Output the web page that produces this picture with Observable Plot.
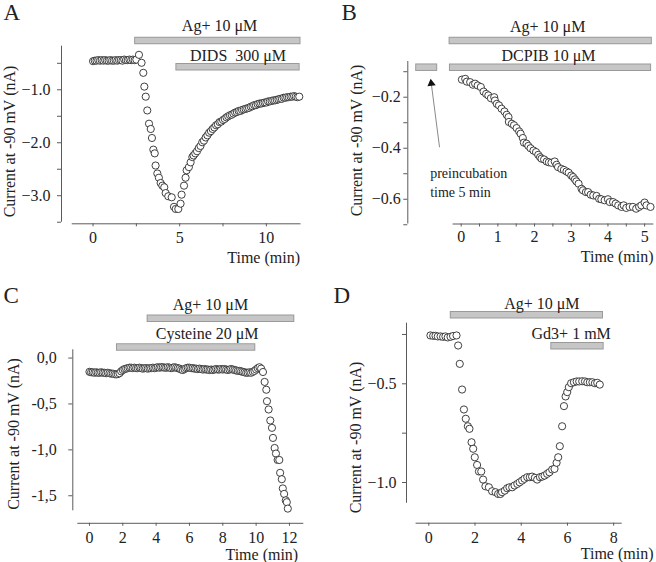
<!DOCTYPE html>
<html><head><meta charset="utf-8">
<script src="https://cdn.jsdelivr.net/npm/d3@7"></script>
<script src="https://cdn.jsdelivr.net/npm/@observablehq/plot@0.6"></script>
<style>
html,body{margin:0;padding:0;background:#fff;}
#fig{position:relative;width:656px;height:562px;overflow:hidden;background:#fff;}
#fig > svg{position:absolute;overflow:visible;}
</style></head><body><div id="fig"></div>
<script>
// ---------- Panel A: Ag+ then DIDS ----------
const aTime = [0,0.1,0.2,0.3,0.4,0.5,0.6,0.7,0.8,0.9,1,1.1,1.2,1.3,1.4,1.5,1.6,1.7,1.8,1.9,2,2.1,2.2,2.3,2.4,2.5,
  2.65,2.8,2.9,2.96,3.04,3.13,3.23,3.33,3.4,3.48,3.56,3.61,3.71,3.8,3.9,4,4.11,4.19,4.34,4.54,4.67,4.77,4.92,5.05,5.11,5.25,5.34,5.4,5.53,5.63,5.73,
  5.8,5.9,6,6.1,6.2,6.3,6.4,6.5,6.6,6.7,6.8,6.9,7,7.1,7.2,7.3,7.4,7.5,7.6,7.7,7.8,7.9,8,8.1,8.2,8.3,8.4,8.5,8.6,8.7,8.8,8.9,9,9.1,9.2,9.3,9.4,9.5,9.6,9.7,9.8,9.9,10,10.1,10.2,10.3,10.4,10.5,10.6,10.7,10.8,10.9,11,11.1,11.2,11.3,11.4,11.5,11.6,11.7,11.8,11.9];
const aCurrent = [-0.46,-0.45,-0.45,-0.44,-0.45,-0.44,-0.45,-0.44,-0.45,-0.45,-0.44,-0.45,-0.45,-0.44,-0.45,-0.44,-0.44,-0.45,-0.43,-0.44,-0.44,-0.43,-0.44,-0.43,-0.44,-0.43,
  -0.34,-0.49,-0.68,-0.94,-1.13,-1.39,-1.64,-1.74,-1.91,-2.13,-2.2,-2.43,-2.58,-2.66,-2.76,-2.81,-2.84,-2.95,-3.01,-3.03,-3.21,-3.25,-3.25,-3.15,-2.98,-2.81,-2.66,-2.52,-2.46,-2.37,-2.27,
  -2.24,-2.2,-2.16,-2.1,-2.06,-1.99,-1.96,-1.9,-1.86,-1.81,-1.78,-1.74,-1.71,-1.67,-1.65,-1.61,-1.6,-1.57,-1.55,-1.52,-1.5,-1.48,-1.47,-1.45,-1.43,-1.42,-1.4,-1.4,-1.38,-1.37,
  -1.36,-1.35,-1.34,-1.32,-1.31,-1.29,-1.29,-1.27,-1.26,-1.26,-1.25,-1.24,-1.24,-1.22,-1.22,-1.21,-1.2,-1.2,-1.19,-1.18,-1.17,-1.17,-1.15,-1.15,-1.14,-1.14,-1.13,-1.13,-1.12,-1.13,-1.14,-1.13];
const aBars = [{name: "Ag+ 10 μM", start: 2.4, end: 12}, {name: "DIDS\u00a0 300 μM", start: 4.78, end: 11.95}];
const aXTicks = [0, 2.5, 5, 7.5, 10], aXLabeled = [0, 5, 10];
const aYTicks = [-0.5, -1, -1.5, -2, -2.5, -3, -3.5], aYLabeled = [-1, -2, -3];

// ---------- Panel B: DCPIB preincubation ----------
const bTime = [0.02,0.11,0.155,0.245,0.32,0.38,0.45,0.535,0.61,0.68,0.74,0.81,0.9,0.92,0.97,1.03,1.1,1.18,1.24,1.29,
  1.3,1.38,1.44,1.51,1.58,1.62,1.68,1.71,1.78,1.83,1.89,1.97,2.04,2.1,2.15,2.19,2.26,2.33,2.39,2.46,
  2.55,2.6,2.64,2.73,2.8,2.87,2.93,3.0,3.05,3.1,3.14,3.2,3.28,3.32,3.4,3.46,3.53,3.6,3.69,3.76,
  3.82,3.91,4.0,4.05,4.14,4.21,4.28,4.37,4.43,4.5,4.59,4.68,4.77,4.85,4.91,5.0,5.05,5.16];
const bCurrent = [-0.131,-0.128,-0.139,-0.141,-0.151,-0.147,-0.154,-0.16,-0.178,-0.187,-0.193,-0.204,-0.2,-0.213,-0.226,-0.232,-0.245,-0.256,-0.269,-0.278,
  -0.297,-0.304,-0.31,-0.321,-0.334,-0.343,-0.36,-0.378,-0.382,-0.391,-0.4,-0.409,-0.415,-0.426,-0.435,-0.441,-0.444,-0.452,-0.455,-0.457,
  -0.452,-0.465,-0.474,-0.481,-0.485,-0.491,-0.496,-0.507,-0.513,-0.522,-0.53,-0.539,-0.559,-0.565,-0.572,-0.572,-0.582,-0.585,-0.587,-0.598,
  -0.6,-0.604,-0.6,-0.611,-0.611,-0.617,-0.624,-0.63,-0.624,-0.634,-0.63,-0.63,-0.637,-0.63,-0.624,-0.613,-0.624,-0.63];
const bBars = [{name: "Ag+ 10 μM", start: -0.33, end: 5.21}, {name: "DCPIB 10 μM", start: -0.32, end: 5.19}, {name: "", start: -1.24, end: -0.64}];
const bArrow = {fromT: -0.59, fromV: -0.396, toT: -0.815, toV: -0.146};
const bNote = {t: -0.845, lines: ["preincubation", "time 5 min"], v: [-0.50, -0.573]};
const bXTicks = [0,0.5,1,1.5,2,2.5,3,3.5,4,4.5,5], bXLabeled = [0,1,2,3,4,5];
const bYTicks = [-0.1,-0.2,-0.3,-0.4,-0.5,-0.6,-0.7], bYLabeled = [-0.2,-0.4,-0.6];

// ---------- Panel C: Cysteine ----------
const cTime = [0,0.1,0.2,0.3,0.4,0.5,0.6,0.7,0.8,0.9,1,1.1,1.2,1.3,1.4,1.5,1.6,1.7,1.8,1.9,2,2.1,2.2,2.3,2.4,2.5,
  2.6,2.7,2.8,2.9,3,3.1,3.2,3.3,3.4,3.5,3.6,3.7,3.8,3.9,4,4.1,4.2,4.3,4.4,4.5,4.6,4.7,4.8,4.9,5,5.1,5.2,5.3,5.4,5.5,
  5.6,5.7,5.8,5.9,6,6.1,6.2,6.3,6.4,6.5,6.6,6.7,6.8,6.9,7,7.1,7.2,7.3,7.4,7.5,7.6,7.7,7.8,7.9,8,8.1,8.2,8.3,8.4,8.5,
  8.6,8.7,8.8,8.9,9,9.1,9.2,9.3,9.4,9.5,9.6,9.7,9.8,9.9,10,10.1,10.2,10.3,
  10.41,10.51,10.61,10.65,10.75,10.85,10.95,11.01,11.11,11.19,11.29,11.39,11.44,11.54,11.6,11.68,11.78,11.84,11.9];
const cCurrent = [-0.15,-0.155,-0.155,-0.16,-0.155,-0.16,-0.16,-0.155,-0.16,-0.16,-0.165,-0.16,-0.165,-0.17,-0.17,-0.175,
  -0.178,-0.175,-0.165,-0.145,-0.13,-0.12,-0.115,-0.11,-0.105,-0.105,
  -0.11,-0.105,-0.11,-0.11,-0.105,-0.11,-0.115,-0.11,-0.11,-0.115,-0.11,-0.11,-0.105,-0.11,-0.105,
  -0.1,-0.105,-0.1,-0.1,-0.105,-0.105,-0.1,-0.105,-0.11,-0.105,-0.1,-0.105,-0.11,-0.115,-0.125,
  -0.13,-0.12,-0.11,-0.105,-0.105,-0.11,-0.11,-0.115,-0.115,-0.12,-0.115,-0.12,-0.125,-0.12,-0.125,
  -0.125,-0.13,-0.125,-0.13,-0.125,-0.12,-0.125,-0.125,-0.12,-0.125,-0.12,-0.125,-0.13,-0.125,-0.12,
  -0.125,-0.13,-0.135,-0.14,-0.14,-0.145,-0.15,-0.155,-0.16,-0.16,-0.155,-0.16,-0.15,-0.14,-0.125,-0.11,-0.1,-0.115,
  -0.152,-0.26,-0.345,-0.47,-0.56,-0.68,-0.76,-0.87,-0.98,-1.04,-1.11,-1.11,-1.25,-1.32,-1.42,-1.48,-1.55,-1.57,-1.64];
const cBars = [{name: "Ag+ 10 μM", start: 3.46, end: 12.32}, {name: "Cysteine 20 μM", start: 1.62, end: 9.98}];
const cXTicks = [0,2,4,6,8,10,12], cXLabeled = [0,2,4,6,8,10,12];
const cYTicks = [0,-0.5,-1,-1.5], cYLabeled = [0,-0.5,-1,-1.5];

// ---------- Panel D: Gd3+ ----------
const dTime = [0.07,0.19,0.29,0.39,0.51,0.62,0.72,0.82,0.94,1.05,1.2,
  1.27,1.34,1.44,1.52,1.6,1.69,1.76,1.85,1.92,1.99,2.09,2.17,2.27,2.35,2.45,2.6,2.74,2.89,3.0,3.1,
  3.17,3.29,3.39,3.49,3.61,3.71,3.83,3.93,4.04,4.14,4.26,4.37,4.47,4.59,4.69,4.81,4.91,5.01,5.12,5.22,
  5.34,5.44,5.53,5.6,5.67,5.77,5.85,5.92,5.99,6.06,6.16,6.28,6.4,6.51,6.64,6.76,6.86,6.97,7.08,7.19,7.29,7.4];
const dCurrent = [-0.255,-0.257,-0.257,-0.26,-0.26,-0.262,-0.26,-0.265,-0.262,-0.258,-0.255,
  -0.306,-0.399,-0.529,-0.63,-0.677,-0.715,-0.728,-0.796,-0.829,-0.872,-0.911,-0.944,-0.944,-0.985,-1.019,-1.024,-1.044,-1.049,-1.058,-1.058,
  -1.049,-1.041,-1.029,-1.024,-1.024,-1.015,-1.007,-0.999,-0.99,-0.981,-0.973,-0.973,-0.97,-0.976,-0.985,-0.973,-0.97,-0.965,-0.956,-0.948,
  -0.934,-0.931,-0.9,-0.872,-0.816,-0.715,-0.613,-0.564,-0.542,-0.517,-0.497,-0.492,-0.488,-0.488,-0.487,-0.488,-0.492,-0.492,-0.492,-0.497,-0.495,-0.504];
const dBars = [{name: "Ag+ 10 μM", start: 0.93, end: 7.56}, {name: "Gd3+ 1 mM", start: 5.28, end: 7.59}];
const dXTicks = [0,2,4,6,8], dXLabeled = [0,2,4,6,8];
const dYTicks = [-0.25,-0.5,-0.75,-1], dYLabeled = [-0.5,-1];

const yTitle = "Current at -90 mV (nA)";
const xTitle = "Time (min)";

// ---------- drawing ----------
const INK = "#222", AXIS = "#5a5a5a", BAR_FILL = "#c6c6c6", BAR_EDGE = "#9a9a9a", DOT = "#2b2b2b";
const FONT = "'Liberation Serif','Times New Roman',serif";
const fig = document.getElementById("fig");
const minusFmt = d => d.toFixed(1).replace("-", "\u2212");

function panel(p) {
  const pts = p.time.map((t, i) => ({t, v: p.current[i]}));
  const [x0, x1] = p.xDomain, [y0, y1] = p.yDomain;
  const frameMidY = p.m.top + (281 - p.m.top - p.m.bottom) / 2;
  const marks = [
    Plot.ruleX([x0], {y1: () => p.yAxisFrom, y2: () => y1, stroke: AXIS}),
    Plot.ruleY([y0], {x1: () => p.xAxisFrom, x2: () => x1, stroke: AXIS}),
    Plot.axisX(p.xTicks, {anchor: "bottom", tickSize: 3, tickPadding: p.xPad, label: null, stroke: AXIS, fill: INK,
      tickFormat: d => p.xLabeled.includes(d) ? String(d) : ""}),
    Plot.axisY(p.yTicks, {anchor: "left", tickSize: 4, tickPadding: p.yPad, label: null, stroke: AXIS, fill: INK,
      tickFormat: d => p.yLabeled.includes(d) ? p.yFmt(d) : ""})
  ];
  p.bars.forEach((b, i) => {
    const dy = p.barDy[i];
    marks.push(Plot.ruleY([b], {y: () => y1, x1: "start", x2: "end", dy, stroke: BAR_EDGE, strokeWidth: 7.5}));
    marks.push(Plot.ruleY([b], {y: () => y1, x1: "start", x2: "end", dy, stroke: BAR_FILL, strokeWidth: 5.5, insetLeft: 1, insetRight: 1}));
    if (b.name) marks.push(Plot.text([b], {x: d => (d.start + d.end) / 2, y: () => y1, text: "name",
      dx: p.labelDx[i], dy: p.labelDy[i], fill: INK, lineAnchor: "middle"}));
  });
  if (p.extra) marks.push(...p.extra);
  marks.push(Plot.dot(pts, {x: "t", y: "v", r: 3.6, stroke: DOT, strokeWidth: 0.9, fill: "white"}));
  marks.push(Plot.text([xTitle], {text: d => d, frameAnchor: "bottom-right", textAnchor: "end", lineAnchor: "middle",
    dx: p.xTitle[0], dy: p.xTitle[1], fill: INK}));
  marks.push(Plot.text([yTitle], {text: d => d, frameAnchor: "left", rotate: -90, textAnchor: "middle", lineAnchor: "middle",
    dx: p.yTitle[0] - p.m.left, dy: p.yTitle[1] - frameMidY, fill: INK}));
  marks.push(Plot.text([p.letter], {text: d => d, frameAnchor: "top-left", textAnchor: "start", lineAnchor: "bottom",
    dx: p.letterPos[0] - p.m.left, dy: p.letterPos[1] - p.m.top, fontSize: 23, fill: INK}));
  const svg = Plot.plot({
    width: 328, height: 281,
    marginLeft: p.m.left, marginRight: p.m.right, marginTop: p.m.top, marginBottom: p.m.bottom,
    x: {domain: p.xDomain, label: null},
    y: {domain: p.yDomain, label: null},
    style: {fontFamily: FONT, fontSize: "16px", color: INK, background: "transparent"},
    marks
  });
  svg.style.left = p.pos[0] + "px";
  svg.style.top = p.pos[1] + "px";
  fig.appendChild(svg);
}

panel({
  letter: "A", pos: [0, 0], letterPos: [3, 19],
  time: aTime, current: aCurrent, bars: aBars,
  m: {left: 61, right: 27.5, top: 45.7, bottom: 57.7},
  xDomain: [-1.82, 12], yDomain: [-3.53, -0.177], yAxisFrom: -3.5, xAxisFrom: -1.2,
  xTicks: aXTicks, xLabeled: aXLabeled, yTicks: aYTicks, yLabeled: aYLabeled,
  yFmt: minusFmt, xPad: 5, yPad: 7,
  barDy: [-5.7, 20.6], labelDx: [1.7, 0], labelDy: [-20.7, 9.3],
  xTitle: [-1, 34], yTitle: [9, 141]
});

panel({
  letter: "B", pos: [328, 0], letterPos: [13, 19],
  time: bTime, current: bCurrent, bars: bBars,
  m: {left: 79.3, right: 2.7, top: 61, bottom: 57.5},
  xDomain: [-1.455, 5.25], yDomain: [-0.697, -0.06], yAxisFrom: -0.697, xAxisFrom: -0.22,
  xTicks: bXTicks, xLabeled: bXLabeled, yTicks: bYTicks, yLabeled: bYLabeled,
  yFmt: minusFmt, xPad: 4, yPad: 3,
  barDy: [-21, 5.7, 5.7], labelDx: [-3, -2, 0], labelDy: [-35, -6, 0],
  xTitle: [-0.3, 33.2], yTitle: [28, 140],
  extra: [
    Plot.link([bArrow], {x1: "fromT", y1: "fromV", x2: "toT", y2: "toV", stroke: "#8a8a8a", strokeWidth: 1}),
    Plot.dot([bArrow], {x: "toT", y: "toV", symbol: "triangle", r: 3.1, fill: "#111", stroke: "none", rotate: -7.5}),
    Plot.text(bNote.lines, {x: () => bNote.t, y: (d, i) => bNote.v[i], text: d => d, textAnchor: "start", lineAnchor: "middle", fontSize: 14, fill: INK})
  ]
});

panel({
  letter: "C", pos: [0, 281], letterPos: [3, 21],
  time: cTime, current: cCurrent, bars: cBars,
  m: {left: 72.3, right: 24.7, top: 68.3, bottom: 39.2},
  xDomain: [-1.0, 12.86], yDomain: [-1.80, 0.09], yAxisFrom: -1.664, xAxisFrom: -0.7,
  xTicks: cXTicks, xLabeled: cXLabeled, yTicks: cYTicks, yLabeled: cYLabeled,
  yFmt: d => d.toFixed(1).replace(".", ","), xPad: 5, yPad: 12,
  barDy: [-31.6, -2.8], labelDx: [-10.5, 21], labelDy: [-45, -16],
  xTitle: [-5.6, 31.5], yTitle: [13.5, 152.5]
});

panel({
  letter: "D", pos: [328, 281], letterPos: [5, 21],
  time: dTime, current: dCurrent, bars: dBars,
  m: {left: 78, right: 34.3, top: 41.7, bottom: 39.3},
  xDomain: [-0.965, 8.37], yDomain: [-1.206, -0.193], yAxisFrom: -1.105, xAxisFrom: -0.55,
  xTicks: dXTicks, xLabeled: dXLabeled, yTicks: dYTicks, yLabeled: dYLabeled,
  yFmt: minusFmt, xPad: 5, yPad: 6,
  barDy: [-8.4, 22.6], labelDx: [15, -6.3], labelDy: [-19, 10.6],
  xTitle: [31.3, 31], yTitle: [27, 156]
});
</script></body></html>
